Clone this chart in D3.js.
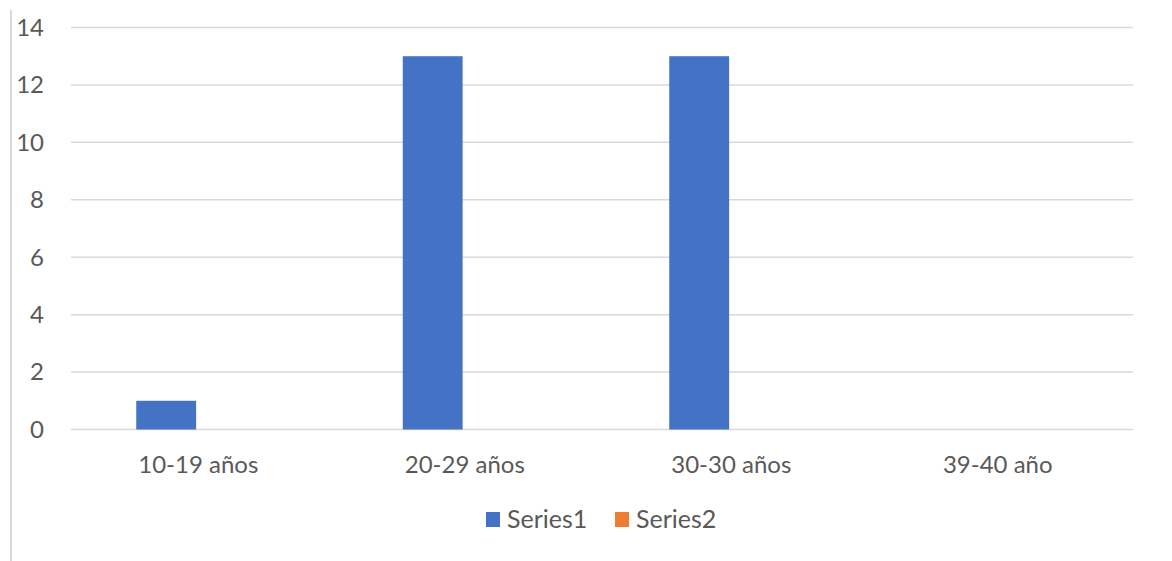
<!DOCTYPE html>
<html>
<head>
<meta charset="utf-8">
<script src="https://cdn.jsdelivr.net/npm/d3@7"></script>
<style>
  html, body { margin: 0; padding: 0; background: #fff; }
  svg { display: block; font-family: Lato, "Open Sans", sans-serif; }
</style>
</head>
<body>
<svg id="chart" width="1172" height="561"></svg>
<script>
// Age groups and counts per series
const categories = ["10-19 años", "20-29 años", "30-30 años", "39-40 año"];
const seriesNames = ["Series1", "Series2"];
const series1 = [1, 13, 13, 0];
const series2 = [0, 0, 0, 0];
const yTicks = [0, 2, 4, 6, 8, 10, 12, 14];
const colors = ["#4472c4", "#ed7d31"];

const svg = d3.select("#chart");
const W = 1172, H = 561;
const gridLeft = 71, gridRight = 1133;
const yTop = 27.5, yBottom = 429.5;

const x0 = d3.scaleBand().domain(categories).range([65, 1131]).padding(0);
const y = d3.scaleLinear().domain([0, 14]).range([yBottom, yTop]);

// chart frame edge on the left
svg.append("line")
  .attr("x1", 11).attr("x2", 11).attr("y1", 10).attr("y2", H)
  .attr("stroke", "#d9d9d9").attr("stroke-width", 2);

// horizontal gridlines
svg.append("g").selectAll("line").data(yTicks).join("line")
  .attr("x1", gridLeft).attr("x2", gridRight)
  .attr("y1", d => y(d)).attr("y2", d => y(d))
  .attr("stroke", "#d9d9d9").attr("stroke-width", 1.5);

// y axis labels
svg.append("g").selectAll("text").data(yTicks).join("text")
  .attr("x", 44).attr("y", d => y(d))
  .attr("dy", "0.35em")
  .attr("text-anchor", "end")
  .attr("fill", "#595959")
  .attr("font-size", 24)
  .text(d => d);

// grouped bars
const groupWidth = 124;
const data = categories.map((c, i) => ({ cat: c, values: [series1[i], series2[i]] }));
const groups = svg.append("g").selectAll("g").data(data).join("g");
groups.each(function (d) {
  const c = x0(d.cat) + x0.bandwidth() / 2;
  const x1 = d3.scaleBand().domain(seriesNames)
    .range([c - groupWidth / 2, c + groupWidth / 2]).paddingInner(0.066);
  d3.select(this).selectAll("rect")
    .data(seriesNames.map((s, k) => ({ s, v: d.values[k], k })))
    .join("rect")
    .attr("x", e => x1(e.s))
    .attr("width", x1.bandwidth())
    .attr("y", e => y(e.v))
    .attr("height", e => y(0) - y(e.v))
    .attr("fill", e => colors[e.k]);
});

// category labels
svg.append("g").selectAll("text").data(categories).join("text")
  .attr("x", d => x0(d) + x0.bandwidth() / 2)
  .attr("y", 473)
  .attr("text-anchor", "middle")
  .attr("fill", "#595959")
  .attr("font-size", 24)
  .text(d => d);

// legend
const legendItems = [{ name: "Series1", x: 486 }, { name: "Series2", x: 615 }];
const lg = svg.append("g").selectAll("g").data(legendItems).join("g")
  .attr("transform", d => `translate(${d.x},512)`);
lg.append("rect").attr("width", 14).attr("height", 15)
  .attr("fill", (d, i) => colors[i]);
lg.append("text").attr("x", 21).attr("y", 16)
  .attr("fill", "#595959").attr("font-size", 25)
  .text(d => d.name);
</script>
</body>
</html>
